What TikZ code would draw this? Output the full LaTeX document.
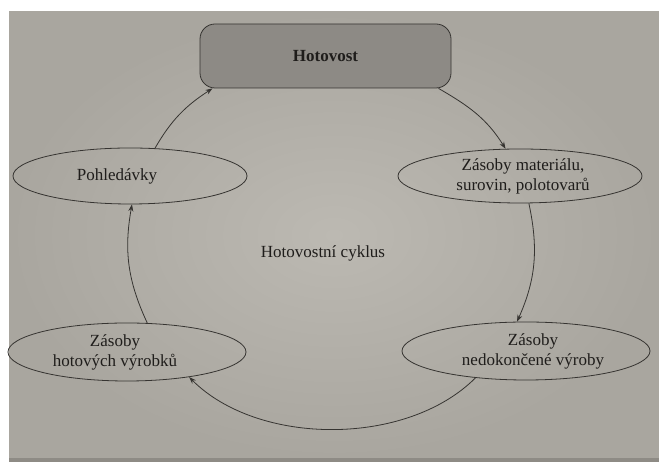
\documentclass[tikz,border=0pt]{standalone}
\usepackage{fontspec}
\setmainfont{Liberation Serif}
\usetikzlibrary{arrows.meta,shapes.geometric}
\definecolor{pagehi}{HTML}{BCB9B2}
\definecolor{pagelo}{HTML}{A9A69F}
\definecolor{stripc}{HTML}{8E8B85}
\definecolor{boxfill}{HTML}{8D8A85}
\definecolor{edge}{HTML}{363431}
\definecolor{ink}{HTML}{1F1D1B}
\begin{document}
\begin{tikzpicture}[x=1pt,y=1pt,
  every node/.style={font=\fontsize{17}{20}\selectfont, text=ink, align=center},
  stage/.style={ellipse, draw=edge, line width=0.8pt, inner sep=0pt},
  cashbox/.style={rectangle, rounded corners=15pt, draw=edge, fill=boxfill, line width=0.8pt,
    minimum width=251pt, minimum height=64pt, inner sep=0pt},
  flow/.style={draw=edge, line width=0.8pt, -{Stealth[length=7pt,width=5pt]}}]
\useasboundingbox (0,0) rectangle (659,462);
\fill[white] (0,0) rectangle (659,462);
\shade[inner color=pagehi, outer color=pagelo] (9,4) rectangle (659,450);
\fill[stripc] (9,0) rectangle (659,4);

\node[cashbox] (hot) at (325.5,406) {\bfseries Hotovost};
\node[stage, minimum width=234pt, minimum height=56pt,
  label={[xshift=-13pt]center:Pohledávky}] (pohl) at (130,286) {};
\node[stage, minimum width=244pt, minimum height=54pt,
  label={[xshift=3pt]center:Zásoby materiálu,\\ surovin, polotovarů}] (mat) at (520,286) {};
\node[stage, minimum width=248pt, minimum height=58pt,
  label={[xshift=7pt]center:Zásoby\\ nedokončené výroby}] (ned) at (526,111) {};
\node[stage, minimum width=238pt, minimum height=58pt,
  label={[xshift=-12pt]center:Zásoby\\ hotových výrobků}] (hvy) at (127,110) {};
\node (cyc) at (323,209) {Hotovostní cyklus};

\draw[flow] (pohl.48) to[out=60, in=213] (hot.196);
\draw[flow] (hot.-16) to[out=-30, in=122] (mat.118);
\draw[flow] (mat.-72) to[out=-78, in=66] (ned.107);
\draw[flow] (ned.208) to[out=225, in=-45, looseness=0.87] (hvy.-22);
\draw[flow] (hvy.55) to[out=115, in=-100] (pohl.-86);
\end{tikzpicture}
\end{document}
